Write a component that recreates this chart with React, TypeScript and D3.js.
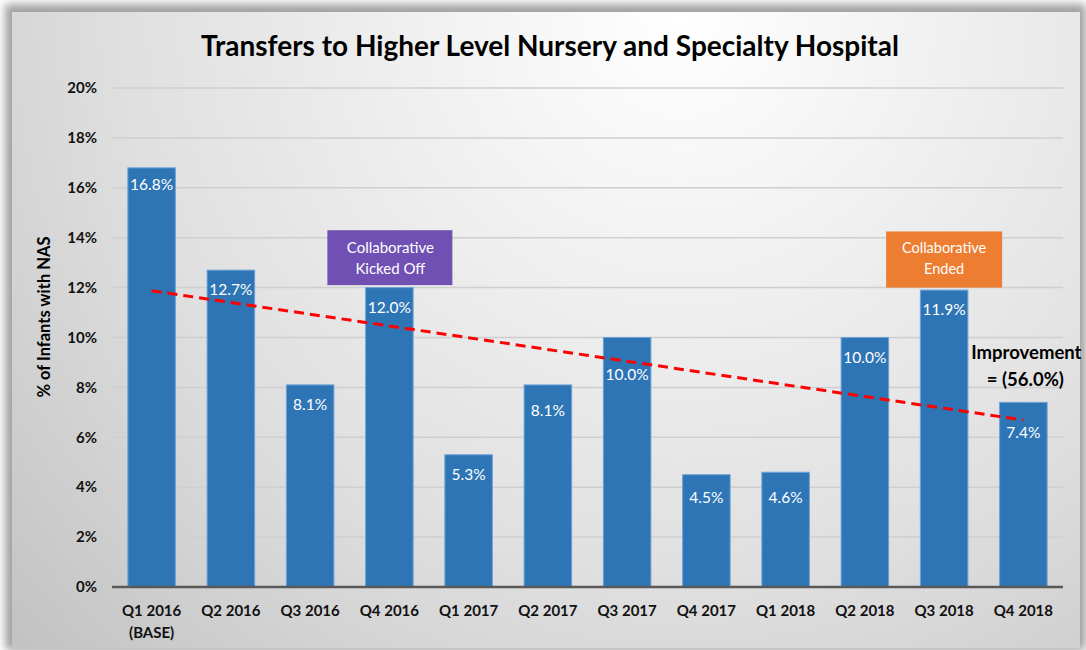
import React from "react";
import * as d3 from "d3";

const quarters = ["Q1 2016", "Q2 2016", "Q3 2016", "Q4 2016", "Q1 2017", "Q2 2017", "Q3 2017", "Q4 2017", "Q1 2018", "Q2 2018", "Q3 2018", "Q4 2018"];
const subLabels = ["(BASE)", "", "", "", "", "", "", "", "", "", "", ""];
const transferPct = [16.8, 12.7, 8.1, 12.0, 5.3, 8.1, 10.0, 4.5, 4.6, 10.0, 11.9, 7.4];
const yTicks = [0, 2, 4, 6, 8, 10, 12, 14, 16, 18, 20];

// label nudges (px below the default spot)
const labelNudge = [-3, 0, 0, 0, 0, 6, 17, 3, 6, 0, 0, 11];

const W = 1086;
const H = 650;
const margin = { left: 112, right: 1063, top: 88, bottom: 587 };
const font = "Lato, 'Open Sans', sans-serif";

export default function App() {
  const x = d3.scaleBand().domain(quarters).range([margin.left, margin.right]).paddingInner(0.4).paddingOuter(0.2);
  const y = d3.scaleLinear().domain([0, 20]).range([margin.bottom, margin.top]);
  const cx = (q: string) => (x(q) as number) + x.bandwidth() / 2;

  // least squares trend, like Excel's linear trendline
  const n = transferPct.length;
  const xs = transferPct.map((_, i) => i + 1);
  const mx = d3.mean(xs) as number;
  const my = d3.mean(transferPct) as number;
  const sxy = d3.sum(xs.map((v, i) => (v - mx) * (transferPct[i] - my)));
  const sxx = d3.sum(xs.map((v) => (v - mx) * (v - mx)));
  const slope = sxy / sxx;
  const trendEnds = [my + slope * (1 - mx), my + slope * (n - mx)];
  const trendPath = d3
    .line<number>()
    .x((d, i) => cx(quarters[i === 0 ? 0 : n - 1]))
    .y((d) => y(d))(trendEnds);

  const kickX = cx("Q4 2016");
  const endX = cx("Q3 2018");
  const lastX = cx("Q4 2018");

  return (
    <svg width={W} height={H} style={{ position: "absolute", left: 0, top: 0 }} fontFamily={font}>
      <defs>
        <radialGradient id="bg" gradientUnits="userSpaceOnUse" cx={680} cy={20} r={1000}>
          <stop offset="0" stopColor="#ffffff" />
          <stop offset="0.55" stopColor="#e0e0e0" />
          <stop offset="1" stopColor="#bbbbbb" />
        </radialGradient>
        <filter id="shadow" x="-5%" y="-5%" width="110%" height="110%">
          <feGaussianBlur stdDeviation="4" />
        </filter>
      </defs>
      <rect x={0} y={0} width={W} height={H} fill="#ffffff" />
      <rect x={5} y={4} width={1081} height={646} fill="#7a7a7a" opacity={0.7} filter="url(#shadow)" />
      <rect x={12} y={12} width={1068} height={636} fill="url(#bg)" />

      <text x={550} y={56} textAnchor="middle" fontSize={28} fontWeight="bold" fill="#000">
        Transfers to Higher Level Nursery and Specialty Hospital
      </text>

      {yTicks.map((t) => (
        <g key={t}>
          {t > 0 && <line x1={margin.left} x2={margin.right} y1={y(t)} y2={y(t)} stroke="#cfcfcf" strokeWidth={1.5} />}
          <text x={97} y={y(t)} dy="0.35em" textAnchor="end" fontSize={15} fontWeight="bold" fill="#111">
            {t}%
          </text>
        </g>
      ))}

      <text transform="translate(50,317) rotate(-90)" textAnchor="middle" fontSize={16.5} fontWeight="bold" fill="#000">
        % of Infants with NAS
      </text>

      {transferPct.map((v, i) => (
        <g key={quarters[i]}>
          <rect x={x(quarters[i])} y={y(v)} width={x.bandwidth()} height={y(0) - y(v)} fill="#2E75B6" stroke="#6ea3d9" strokeWidth={1} />
          <text x={cx(quarters[i])} y={y(v) + 25 + labelNudge[i]} textAnchor="middle" fontSize={15.5} fill="#fff">
            {v.toFixed(1)}%
          </text>
        </g>
      ))}

      <line x1={margin.left} x2={margin.right} y1={y(0)} y2={y(0)} stroke="#595959" strokeWidth={2.5} />

      {quarters.map((q, i) => (
        <g key={q}>
          <text x={cx(q)} y={616} textAnchor="middle" fontSize={15} fontWeight="bold" fill="#111">
            {q}
          </text>
          {subLabels[i] && (
            <text x={cx(q)} y={638} textAnchor="middle" fontSize={15} fontWeight="bold" fill="#111">
              {subLabels[i]}
            </text>
          )}
        </g>
      ))}

      <path d={trendPath || ""} fill="none" stroke="#ff0000" strokeWidth={3} strokeDasharray="10,6" />

      <rect x={kickX - 62} y={y(14.3)} width={125} height={y(12.1) - y(14.3)} fill="#7051B3" />
      <text x={kickX + 1} y={y(14.3) + 23} textAnchor="middle" fontSize={15} fill="#fff">
        Collaborative
      </text>
      <text x={kickX + 1} y={y(14.3) + 44} textAnchor="middle" fontSize={15} fill="#fff">
        Kicked Off
      </text>

      <rect x={endX - 58} y={y(14.25)} width={116} height={y(12.0) - y(14.25)} fill="#ED7D31" />
      <text x={endX} y={y(14.25) + 22} textAnchor="middle" fontSize={14.5} fill="#fff">
        Collaborative
      </text>
      <text x={endX} y={y(14.25) + 43} textAnchor="middle" fontSize={14.5} fill="#fff">
        Ended
      </text>

      <text x={lastX + 3} y={y(9.4)} dy="0.35em" textAnchor="middle" fontSize={18.5} fontWeight="bold" fill="#000">
        Improvement
      </text>
      <text x={lastX + 2} y={y(8.3)} dy="0.35em" textAnchor="middle" fontSize={18.5} fontWeight="bold" fill="#000">
        = (56.0%)
      </text>
    </svg>
  );
}
